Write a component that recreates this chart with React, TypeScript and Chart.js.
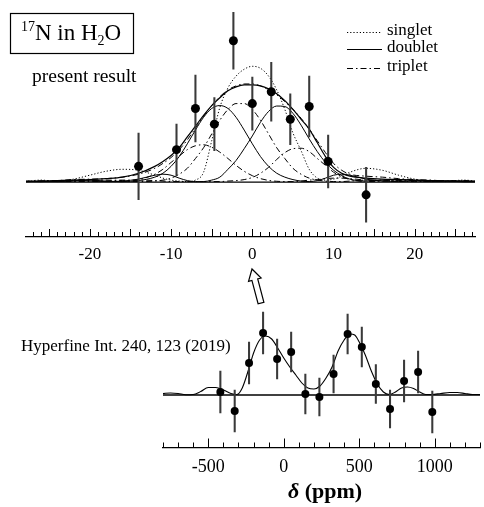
import { useEffect, useRef } from 'react';
import { Chart, registerables } from 'chart.js';

Chart.register(...registerables);

const W = 484;
const H = 507;
const SERIF = "'Liberation Serif', 'Times New Roman', serif";

// ---------- upper panel: present result ----------
const topPointX = [-14, -9.33, -7, -4.67, -2.33, 0, 2.33, 4.67, 7, 9.33, 14];
const topPointY = [16, 33, 75, 59, 144, 80, 92, 64, 77, 21, -13];
const topPointErr = [34, 26, 34, 27, 29, 27, 30, 26, 31, 27, 28];

const fitX = [-28, -26, -24, -22, -20, -18, -16, -14, -12, -11, -10, -9, -8, -7, -6, -5, -4, -3, -2, -1, 0,
  1, 2, 3, 4, 5, 6, 7, 8, 9, 10, 11, 12, 14, 16, 18, 20, 22, 24, 26, 28];

const singletFit = [0.5, 2, 0.5, 3, 7, 11, 13, 12, 7, 4, 2, 1, 0.5, 2, 10, 42, 76, 96, 108, 115, 118,
  116, 108, 94, 74, 50, 32, 13, 4, 2, 3, 6, 10, 14, 12, 7, 3, 1, 1, 2, 0.5];
const doubletFit = [0.5, 1, 1.5, 2, 2.5, 3.5, 5, 9, 16, 21, 27, 35, 46, 57, 68, 78, 86, 93, 97, 99, 99,
  98, 95, 90, 83, 74, 64, 54, 40, 26, 15, 9, 6, 4, 3, 2.5, 2, 1.5, 1, 0.5, 0.5];
const doubletLow = [0.5, 1, 0.5, 1, 2, 1, 0.5, 1.5, 5, 9, 16, 26, 39, 53, 66, 75, 78, 75, 66, 53, 39,
  26, 16, 9, 5, 2.5, 1, 0.5, 1.5, 4, 7, 8, 7, 3, 1, 0.5, 1, 1.5, 1, 0.5, 0.5];
const doubletHigh = [0.5, 0.5, 1, 1.5, 1, 0.5, 1, 3, 7, 8, 7, 4, 1.5, 0.5, 0.5, 2, 5, 13, 22, 34, 47,
  61, 72, 77.5, 77, 70, 58, 44, 31, 20, 12, 6.5, 3, 1, 2, 2.5, 1.5, 0.5, 1, 1, 0.5];
const tripletFit = [1, 0.5, 1.5, 2.5, 3, 3.5, 5, 8, 14, 19, 25, 33, 43, 55, 67, 78, 87, 94, 98, 100, 100,
  98, 94, 89, 82, 74, 65, 54, 42, 30, 19, 12, 8, 6, 5, 3.5, 2.5, 2, 1, 1, 0.5];
const tripletLow = [1, 0.5, 1, 2, 1.5, 0.5, 0.5, 2.3, 8, 13, 20, 26.5, 33, 37, 38, 35.5, 30.5, 24, 17, 11, 6.5,
  3.5, 1.7, 0.8, 0.5, 0.5, 1, 2, 2.5, 3.5, 4, 4, 3.5, 2, 1, 1.5, 2, 1, 0.5, 1, 1];
const tripletMid = [0.5, 1, 1, 0.5, 1.5, 2, 1.5, 0.5, 1, 2, 4, 8, 14, 24, 35, 49, 63, 74, 80, 80, 74,
  63, 49, 35, 24, 14, 8, 4, 2, 1, 0.5, 0.5, 1, 2, 2, 1, 0.5, 1, 1.5, 1, 0.5];
const tripletHigh = [0.5, 1, 1.5, 1, 0.5, 1, 2, 2, 1.5, 1, 0.5, 0.5, 0.5, 0.5, 0.5, 0.5, 0.5, 1, 1.5, 2.5, 4.7,
  9, 15, 23, 30, 34, 34.5, 31, 24, 17, 10, 5.5, 2.6, 0.5, 1, 2, 1.5, 0.5, 1, 1.5, 0.5];

const topRange = [-27.85, 27.4];
const topLabels = [-20, -10, 0, 10, 20];

// ---------- lower panel: Hyperfine Int. 240, 123 (2019) ----------
const refPointX = [-420, -325, -230, -137, -44, 49, 143, 236, 330, 423, 517, 610, 704, 797, 890, 984];
const refPointY = [3, -16, 32, 62, 36, 43, 1, -2, 21, 61, 48, 11, -14, 14, 23, -17];
const refPointErr = [21, 21, 21, 21, 20, 20, 20, 19, 19, 20, 20, 19.5, 19, 21, 21, 21];

const refFitX = [-800, -750, -700, -650, -600, -550, -500, -450, -400, -350, -310, -275, -230, -200, -160, -120,
  -80, -40, 0, 40, 80, 120, 160, 200, 240, 280, 320, 360, 400, 440, 470, 500, 540, 580, 620, 660, 700,
  740, 780, 820, 860, 900, 940, 980, 1040, 1100, 1150, 1200, 1250, 1300];
const refFitY = [1.5, 2, 1.5, 0.3, 0.5, 3.5, 7.5, 7.5, 5, 1.5, 0.5, 7, 27, 42, 55, 59,
  56, 47, 37, 28, 20, 12, 7, 6, 9, 17, 28, 44, 55, 61, 60, 53, 40, 24, 11, 3, 0.5,
  3, 7, 8, 6.5, 3, 0.5, 0.5, 1.5, 2.5, 2.5, 1.5, 0.5, 0.5];

const refRange = [-800, 1300];
const refLabels = [-500, 0, 500, 1000];

// line styles
const DOT = [1.2, 2];
const DASHDOT = [6, 3, 1.5, 3];

const xy = (xs: number[], ys: number[]) => xs.map((x, i) => ({ x, y: ys[i] }));

function curve(ys: number[], dash: number[], width = 1) {
  return {
    type: 'line' as const,
    data: xy(fitX, ys),
    borderColor: '#000',
    borderWidth: width,
    borderDash: dash,
    pointRadius: 0,
    cubicInterpolationMode: 'monotone' as const,
    fill: false,
    order: 3,
  };
}

function errorBars(xs: number[], ys: number[], es: number[]) {
  return {
    type: 'bar' as const,
    data: xs.map((x, i) => ({ x, y: [ys[i] - es[i], ys[i] + es[i]] })),
    backgroundColor: '#3a3a3a',
    borderWidth: 0,
    barThickness: 1.4,
    grouped: false,
    order: 2,
  };
}

function points(xs: number[], ys: number[], r: number) {
  return {
    type: 'line' as const,
    data: xy(xs, ys),
    showLine: false,
    pointRadius: r,
    pointBackgroundColor: '#000',
    pointBorderWidth: 0,
    order: 0,
  };
}

function zeroLine(range: number[], width: number) {
  return {
    type: 'line' as const,
    data: [{ x: range[0], y: 0 }, { x: range[1], y: 0 }],
    borderColor: '#000',
    borderWidth: width,
    pointRadius: 0,
    order: 4,
  };
}

// inward tick marks along the bottom edge of the plot area
function drawTicks(chart: any, from: number, to: number, step: number, majorEvery: number, minorLen: number, majorLen: number) {
  const { ctx, chartArea, scales } = chart;
  ctx.save();
  ctx.strokeStyle = '#000';
  ctx.lineWidth = 1;
  for (let v = from; v <= to + 1e-9; v += step) {
    const px = Math.round(scales.x.getPixelForValue(v)) + 0.5;
    const len = Math.abs(v % majorEvery) < 1e-9 ? majorLen : minorLen;
    ctx.beginPath();
    ctx.moveTo(px, chartArea.bottom);
    ctx.lineTo(px, chartArea.bottom - len);
    ctx.stroke();
  }
  ctx.restore();
}

const topDecor = {
  id: 'topDecor',
  afterDraw(chart: any) {
    const { ctx } = chart;
    drawTicks(chart, -27, 27, 1, 5, 4.5, 7.5);
    ctx.save();
    ctx.fillStyle = '#000';
    ctx.strokeStyle = '#000';

    // sample label box
    ctx.lineWidth = 1.2;
    ctx.strokeRect(10.5, 13.5, 123, 40);
    ctx.textBaseline = 'alphabetic';
    ctx.textAlign = 'left';
    let x = 21;
    ctx.font = `14px ${SERIF}`;
    ctx.fillText('17', x, 31);
    x += ctx.measureText('17').width;
    ctx.font = `23px ${SERIF}`;
    ctx.fillText('N in H', x, 40);
    x += ctx.measureText('N in H').width;
    ctx.font = `14px ${SERIF}`;
    ctx.fillText('2', x, 45);
    x += ctx.measureText('2').width;
    ctx.font = `23px ${SERIF}`;
    ctx.fillText('O', x, 40);

    ctx.font = `19.5px ${SERIF}`;
    ctx.fillText('present result', 32, 82);

    // legend
    const legend: [string, number[]][] = [['singlet', DOT], ['doublet', []], ['triplet', DASHDOT]];
    const ly = [32, 49, 68];
    ctx.font = `17px ${SERIF}`;
    ctx.textBaseline = 'middle';
    legend.forEach(([name, dash], i) => {
      ctx.setLineDash(dash);
      ctx.lineWidth = 1;
      ctx.beginPath();
      ctx.moveTo(347, ly[i] + 0.5);
      ctx.lineTo(382, ly[i] + 0.5);
      ctx.stroke();
      ctx.setLineDash([]);
      ctx.fillText(name, 387, ly[i] - 1);
    });

    // hollow arrow pointing from the lower spectrum to the upper one
    const tail = [261, 303];
    const tip = [252, 269];
    const dx = tip[0] - tail[0];
    const dy = tip[1] - tail[1];
    const len = Math.hypot(dx, dy);
    const ux = dx / len, uy = dy / len;
    const nx = -uy, ny = ux;
    const hb = [tip[0] - ux * 11, tip[1] - uy * 11];
    const sw = 3, hw = 6.5;
    ctx.beginPath();
    ctx.moveTo(tail[0] - nx * sw, tail[1] - ny * sw);
    ctx.lineTo(hb[0] - nx * sw, hb[1] - ny * sw);
    ctx.lineTo(hb[0] - nx * hw, hb[1] - ny * hw);
    ctx.lineTo(tip[0], tip[1]);
    ctx.lineTo(hb[0] + nx * hw, hb[1] + ny * hw);
    ctx.lineTo(hb[0] + nx * sw, hb[1] + ny * sw);
    ctx.lineTo(tail[0] + nx * sw, tail[1] + ny * sw);
    ctx.closePath();
    ctx.fillStyle = '#fff';
    ctx.fill();
    ctx.lineWidth = 1.2;
    ctx.stroke();
    ctx.restore();
  },
};

const bottomDecor = {
  id: 'bottomDecor',
  afterDraw(chart: any) {
    const { ctx } = chart;
    drawTicks(chart, -800, 1300, 100, 500, 5, 9);
    ctx.save();
    ctx.fillStyle = '#000';
    ctx.textBaseline = 'middle';
    ctx.textAlign = 'left';
    ctx.font = `17px ${SERIF}`;
    ctx.fillText('Hyperfine Int. 240, 123 (2019)', 21, 347);

    // axis title: δ (ppm)
    ctx.textBaseline = 'alphabetic';
    ctx.font = `italic bold 22px ${SERIF}`;
    const d = 'δ';
    const dw = ctx.measureText(d).width;
    ctx.font = `bold 22px ${SERIF}`;
    const rest = ' (ppm)';
    const rw = ctx.measureText(rest).width;
    const start = 325 - (dw + rw) / 2;
    ctx.font = `italic bold 22px ${SERIF}`;
    ctx.fillText(d, start, 498);
    ctx.font = `bold 22px ${SERIF}`;
    ctx.fillText(rest, start + dw, 498);
    ctx.restore();
  },
};

function xScale(range: number[], labels: number[], size: number, pad: number) {
  return {
    type: 'linear' as const,
    min: range[0],
    max: range[1],
    offset: false,
    grid: { display: false, drawTicks: false },
    border: { display: true, color: '#000', width: 1.3 },
    ticks: {
      color: '#000',
      font: { family: SERIF, size },
      padding: pad,
      autoSkip: false,
      maxRotation: 0,
      callback: (v: any) => String(v),
    },
    afterBuildTicks: (s: any) => {
      s.ticks = labels.map((value) => ({ value }));
    },
    afterFit: (s: any) => {
      s.height = 30;
    },
  };
}

function topConfig(): any {
  return {
    type: 'line',
    data: {
      datasets: [
        points(topPointX, topPointY, 4.5),
        errorBars(topPointX, topPointY, topPointErr),
        curve(singletFit, DOT),
        curve(doubletFit, [], 1.2),
        curve(doubletLow, []),
        curve(doubletHigh, []),
        curve(tripletFit, DASHDOT),
        curve(tripletLow, DASHDOT),
        curve(tripletMid, DASHDOT),
        curve(tripletHigh, DASHDOT),
        zeroLine(topRange, 1.2),
      ],
    },
    options: {
      responsive: false,
      animation: false,
      devicePixelRatio: 1,
      events: [],
      layout: { padding: { left: 26, right: W - 475, top: 0, bottom: H - 236.5 - 30 } },
      plugins: { legend: { display: false }, tooltip: { enabled: false } },
      scales: {
        x: xScale(topRange, topLabels, 17, 8),
        y: { type: 'linear', display: false, min: -55.5, max: 181 },
      },
    },
    plugins: [topDecor],
  };
}

function bottomConfig(): any {
  return {
    type: 'line',
    data: {
      datasets: [
        points(refPointX, refPointY, 4),
        errorBars(refPointX, refPointY, refPointErr),
        {
          type: 'line',
          data: xy(refFitX, refFitY),
          borderColor: '#000',
          borderWidth: 1.1,
          pointRadius: 0,
          cubicInterpolationMode: 'monotone',
          fill: false,
          order: 3,
        },
        zeroLine(refRange, 1.4),
      ],
    },
    options: {
      responsive: false,
      animation: false,
      devicePixelRatio: 1,
      events: [],
      layout: { padding: { left: 163, right: 0, top: 300, bottom: H - 447.5 - 30 } },
      plugins: { legend: { display: false }, tooltip: { enabled: false } },
      scales: {
        x: xScale(refRange, refLabels, 18, 9),
        y: { type: 'linear', display: false, min: -52.5, max: 95 },
      },
    },
    plugins: [bottomDecor],
  };
}

export default function App() {
  const topRef = useRef<HTMLCanvasElement>(null);
  const bottomRef = useRef<HTMLCanvasElement>(null);

  useEffect(() => {
    const upper = new Chart(topRef.current!, topConfig());
    const lower = new Chart(bottomRef.current!, bottomConfig());
    return () => {
      upper.destroy();
      lower.destroy();
    };
  }, []);

  return (
    <div style={{ position: 'absolute', left: 0, top: 0, width: W, height: H, background: '#fff' }}>
      <canvas ref={topRef} width={W} height={H} style={{ position: 'absolute', left: 0, top: 0 }} />
      <canvas ref={bottomRef} width={W} height={H} style={{ position: 'absolute', left: 0, top: 0 }} />
    </div>
  );
}
